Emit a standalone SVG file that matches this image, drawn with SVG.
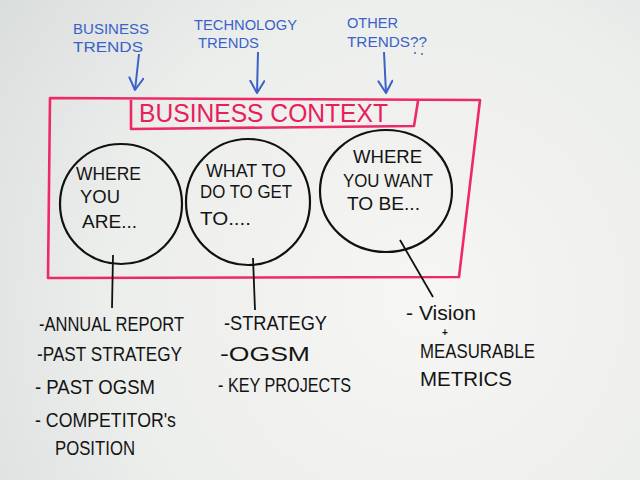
<svg xmlns="http://www.w3.org/2000/svg" width="640" height="480" viewBox="0 0 640 480">
<defs>
<radialGradient id="bg" cx="420" cy="300" r="520" gradientUnits="userSpaceOnUse">
<stop offset="0" stop-color="#f6f6f4"/>
<stop offset="0.6" stop-color="#eceeec"/>
<stop offset="1" stop-color="#d9dddc"/>
</radialGradient>
<marker id="vhead" viewBox="0 0 16 16" refX="14" refY="8" markerWidth="16" markerHeight="16" markerUnits="userSpaceOnUse" orient="auto">
<path d="M2,1 L14,8 L2,15" fill="none" stroke="#3a62c8" stroke-width="2" stroke-linecap="round" stroke-linejoin="round"/>
</marker>
<style>
.blue{font-family:"Liberation Sans",Arial,sans-serif;fill:#3a62c8;font-size:15px}
.red{font-family:"Liberation Sans",Arial,sans-serif;fill:#e8205a;font-size:26px}
.blk{font-family:"Liberation Sans",Arial,sans-serif;fill:#141414}
.cir{font-size:18px}
.lst{font-size:21px}
.redline{fill:none;stroke:#ee2a66;stroke-width:2.6;stroke-linejoin:round}
.bubble{fill:none;stroke:#111;stroke-width:2.2}
.conn{stroke:#111;stroke-width:1.8;fill:none}
.arrow{stroke:#3a62c8;stroke-width:2;fill:none;marker-end:url(#vhead)}
</style>
</defs>
<rect width="640" height="480" fill="url(#bg)"/>

<g id="trend-business">
<text class="blue" x="73" y="34" textLength="76" lengthAdjust="spacingAndGlyphs">BUSINESS</text>
<text class="blue" x="73" y="52" textLength="70" lengthAdjust="spacingAndGlyphs">TRENDS</text>
</g>
<g id="trend-technology">
<text class="blue" x="194" y="30" textLength="103" lengthAdjust="spacingAndGlyphs">TECHNOLOGY</text>
<text class="blue" x="198" y="48" textLength="61" lengthAdjust="spacingAndGlyphs">TRENDS</text>
</g>
<g id="trend-other">
<text class="blue" x="347" y="28" textLength="51" lengthAdjust="spacingAndGlyphs">OTHER</text>
<text class="blue" x="347" y="47" textLength="80" lengthAdjust="spacingAndGlyphs">TRENDS??</text>
<circle cx="415" cy="53" r="1" fill="#3a62c8"/>
<circle cx="422" cy="54" r="1" fill="#3a62c8"/>
</g>

<g id="business-context">
<path class="redline" d="M50,98 L480,100 L459,277 L48,278 Z"/>
<path class="redline" d="M131,100 L131,129 L414,126 L418,101"/>
<text class="red" x="139" y="122" textLength="249" lengthAdjust="spacingAndGlyphs">BUSINESS CONTEXT</text>
</g>

<g id="where-you-are">
<ellipse class="bubble" cx="121" cy="204" rx="61" ry="60"/>
<text class="blk cir" x="76" y="180" textLength="65" lengthAdjust="spacingAndGlyphs">WHERE</text>
<text class="blk cir" x="80" y="203" textLength="40" lengthAdjust="spacingAndGlyphs">YOU</text>
<text class="blk cir" x="82" y="228" textLength="55" lengthAdjust="spacingAndGlyphs">ARE...</text>
</g>
<g id="what-to-do">
<ellipse class="bubble" cx="248" cy="202" rx="62" ry="63"/>
<text class="blk cir" x="206" y="177" textLength="80" lengthAdjust="spacingAndGlyphs">WHAT TO</text>
<text class="blk cir" x="200" y="198" textLength="92" lengthAdjust="spacingAndGlyphs">DO TO GET</text>
<text class="blk cir" x="200" y="225" textLength="51" lengthAdjust="spacingAndGlyphs">TO....</text>
</g>
<g id="where-you-want">
<ellipse class="bubble" cx="386" cy="191" rx="66" ry="61"/>
<text class="blk cir" x="353" y="163" textLength="69" lengthAdjust="spacingAndGlyphs">WHERE</text>
<text class="blk cir" x="343" y="187" textLength="90" lengthAdjust="spacingAndGlyphs">YOU WANT</text>
<text class="blk cir" x="347" y="210" textLength="73" lengthAdjust="spacingAndGlyphs">TO BE...</text>
</g>

<g id="list-where-you-are">
<text class="blk lst" x="39" y="331" textLength="145" lengthAdjust="spacingAndGlyphs">-ANNUAL REPORT</text>
<text class="blk lst" x="37" y="361" textLength="145" lengthAdjust="spacingAndGlyphs">-PAST STRATEGY</text>
<text class="blk lst" x="35" y="394" textLength="120" lengthAdjust="spacingAndGlyphs">- PAST OGSM</text>
<text class="blk lst" x="35" y="427" textLength="141" lengthAdjust="spacingAndGlyphs">- COMPETITOR's</text>
<text class="blk lst" x="55" y="455" textLength="80" lengthAdjust="spacingAndGlyphs">POSITION</text>
</g>
<g id="list-what-to-do">
<text class="blk lst" x="224" y="330" textLength="103" lengthAdjust="spacingAndGlyphs">-STRATEGY</text>
<text class="blk lst" x="220" y="361" textLength="90" lengthAdjust="spacingAndGlyphs">-OGSM</text>
<text class="blk lst" x="218" y="392" textLength="133" lengthAdjust="spacingAndGlyphs">- KEY PROJECTS</text>
</g>
<g id="list-where-you-want">
<text class="blk lst" x="406" y="320" textLength="70" lengthAdjust="spacingAndGlyphs">- Vision</text>
<text class="blk" x="442" y="336" font-size="10" font-weight="bold">+</text>
<text class="blk lst" x="420" y="358" textLength="115" lengthAdjust="spacingAndGlyphs">MEASURABLE</text>
<text class="blk lst" x="420" y="386" textLength="92" lengthAdjust="spacingAndGlyphs">METRICS</text>
</g>

<g id="connectors">
<line class="arrow" x1="139" y1="54" x2="135" y2="90"/>
<line class="arrow" x1="258" y1="52" x2="257" y2="93"/>
<line class="arrow" x1="384" y1="52" x2="386" y2="93"/>
<line class="conn" x1="113" y1="255" x2="112" y2="308"/>
<line class="conn" x1="253" y1="258" x2="255" y2="310"/>
<line class="conn" x1="400" y1="240" x2="433" y2="297"/>
</g>
</svg>
